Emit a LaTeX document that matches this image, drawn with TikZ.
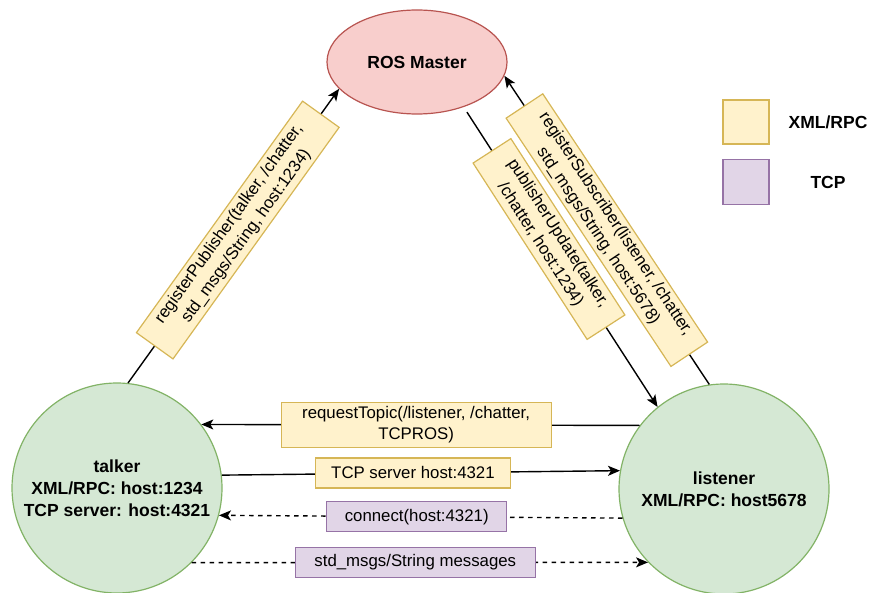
\documentclass[tikz,border=0pt]{standalone}
\usepackage{fontspec}
\setmainfont{Liberation Sans}
\usetikzlibrary{arrows.meta,shapes.geometric}
\definecolor{yfill}{HTML}{FFF2CC}
\definecolor{ydraw}{HTML}{D6B656}
\definecolor{pfill}{HTML}{E1D5E7}
\definecolor{pdraw}{HTML}{9673A6}
\definecolor{gfill}{HTML}{D5E8D4}
\definecolor{gdraw}{HTML}{82B366}
\definecolor{rfill}{HTML}{F8CECC}
\definecolor{rdraw}{HTML}{B85450}
\begin{document}
\begin{tikzpicture}[x=1pt,y=-1pt,
  every node/.style={font=\fontsize{16.8}{21}\selectfont},
  masterstyle/.style={ellipse, draw=rdraw, fill=rfill, line width=1.2pt, minimum width=180pt, minimum height=104pt, inner sep=0pt, font=\fontsize{17.5}{21}\selectfont\bfseries},
  peer/.style={circle, draw=gdraw, fill=gfill, line width=1.2pt, minimum size=210pt, inner sep=0pt, align=center, font=\fontsize{17.5}{22}\selectfont\bfseries},
  xmlbox/.style={solid, draw=ydraw, fill=yfill, line width=1.2pt, inner sep=0pt, align=center},
  tcpbox/.style={solid, draw=pdraw, fill=pfill, line width=1.2pt, inner sep=0pt, align=center},
  arr/.style={line width=1.4pt, -{Stealth[length=12pt,width=10pt,inset=3pt]}},
  dsh/.style={arr, dash pattern=on 4.5pt off 4.5pt},
  legtext/.style={font=\fontsize{17.5}{21}\selectfont\bfseries}
]
\useasboundingbox (0,0) rectangle (869,593);

\node[masterstyle] (master) at (417,62) {ROS Master};
\node[peer] (talker) at (117,488) {talker\\XML/RPC: host:1234\\TCP server: host:4321};
\node[peer] (listener) at (724,489) {listener\\XML/RPC: host5678};

% diagonal XML/RPC calls
\draw[arr] (talker.84) -- node[xmlbox, sloped, pos=0.52, minimum width=285pt, minimum height=45pt]
  {registerPublisher(talker, /chatter,\\std\_msgs/String, host:1234)} (master.199);
\draw[arr, shorten <=6pt] (master.316) -- node[xmlbox, sloped, pos=0.44, minimum width=210pt, minimum height=45pt]
  {publisherUpdate(talker,\\/chatter, host:1234)} (listener.129);
\draw[arr] (listener.98) -- node[xmlbox, sloped, pos=0.5, minimum width=298pt, minimum height=44pt]
  {registerSubscriber(listener, /chatter,\\std\_msgs/String, host:5678)} (master.351);

% horizontal calls
\draw[arr] (listener.143) -- node[xmlbox, pos=0.51, minimum width=270pt, minimum height=45pt]
  {requestTopic(/listener, /chatter,\\TCPROS)} (talker.37);
\draw[arr] (talker.7) -- node[xmlbox, pos=0.48, minimum width=195pt, minimum height=30pt]
  {TCP server host:4321} (listener.170);
\draw[dsh] (listener.196) -- node[tcpbox, pos=0.51, minimum width=180pt, minimum height=30pt]
  {connect(host:4321)} (talker.345);
\draw[dsh] (talker.315) -- node[tcpbox, pos=0.49, minimum width=240pt, minimum height=30pt]
  {std\_msgs/String messages} (listener.224);

% legend
\node[xmlbox, minimum width=46pt, minimum height=44pt] (legxml) at (746,122) {};
\node[tcpbox, minimum width=46pt, minimum height=45pt] (legtcp) at (746,182) {};
\node[legtext] (legxmltext) at (828,122) {XML/RPC};
\node[legtext] (legtcptext) at (828,182) {TCP};
\end{tikzpicture}
\end{document}
